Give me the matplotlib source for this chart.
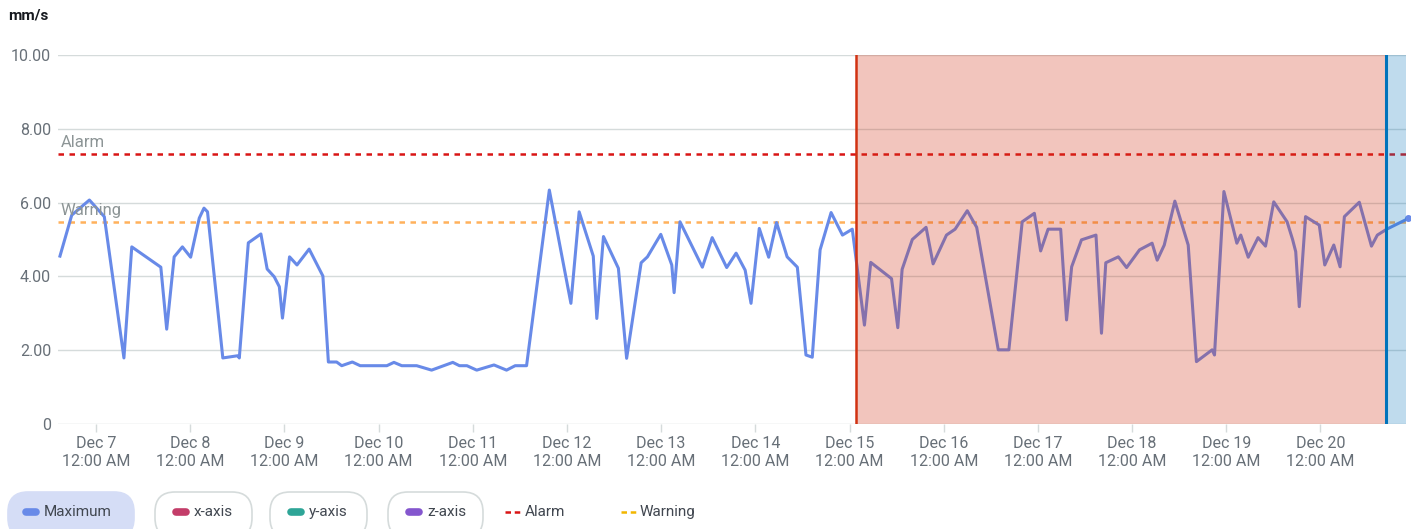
import matplotlib
matplotlib.use("Agg")
import matplotlib.pyplot as plt
import matplotlib.dates as mdates
from matplotlib.patches import FancyBboxPatch
import pandas as pd

plt.rcParams['font.family'] = ['Roboto', 'DejaVu Sans']

# hours since Dec 7 12:00 AM and the maximum vibration (mm/s)
hours = [-9.2, -6.2, -1.7, 2.1, 7.1, 9.1, 16.5, 18.0, 19.9, 22.0,
         24.1, 26.3, 27.5, 28.4, 32.3, 36.1, 36.5, 38.8, 42.0, 43.6,
         45.4, 46.7, 47.5, 49.3, 51.2, 54.3, 57.8, 59.2, 61.3, 62.6,
         65.3, 67.3, 74.1, 75.9, 77.9, 81.7, 85.5, 90.9, 92.6, 94.5,
         97.0, 101.4, 104.6, 106.8, 109.7, 115.5, 121.0, 123.1, 126.7, 127.6,
         129.3, 133.1, 135.2, 138.9, 140.5, 143.9, 146.7, 147.3, 148.8, 154.5,
         157.0, 160.7, 163.1, 165.4, 166.9, 169.0, 171.4, 173.4, 176.1, 178.7,
         180.9, 182.5, 184.5, 187.3, 190.2, 192.7, 195.8, 197.4, 202.7, 204.3,
         205.4, 208.0, 211.5, 213.3, 216.7, 218.9, 222.0, 224.4, 229.9, 232.6,
         236.0, 239.1, 240.7, 242.6, 245.8, 247.3, 248.6, 251.1, 254.8, 256.2,
         257.3, 260.5, 262.6, 265.9, 269.1, 270.4, 272.2, 274.9, 278.3, 280.4,
         284.4, 285.0, 287.4, 290.7, 291.7, 293.6, 296.1, 298.0, 300.1, 303.5,
         304.9, 305.7, 306.6, 308.2, 311.7, 313.1, 315.4, 317.0, 318.1, 321.9,
         325.0, 326.5, 328.9, 334.4]
maximum = [4.55, 5.66, 6.07, 5.62, 1.79, 4.80, 4.25, 2.57, 4.53, 4.80,
           4.52, 5.58, 5.85, 5.75, 1.79, 1.85, 1.79, 4.91, 5.15, 4.20,
           3.99, 3.72, 2.87, 4.53, 4.31, 4.74, 4.01, 1.68, 1.68, 1.58,
           1.68, 1.58, 1.58, 1.67, 1.58, 1.58, 1.46, 1.67, 1.58, 1.58,
           1.46, 1.60, 1.46, 1.58, 1.58, 6.34, 3.27, 5.75, 4.55, 2.86,
           5.08, 4.22, 1.78, 4.37, 4.53, 5.14, 4.31, 3.56, 5.48, 4.25,
           5.05, 4.24, 4.63, 4.17, 3.27, 5.30, 4.52, 5.46, 4.53, 4.25,
           1.87, 1.81, 4.72, 5.73, 5.12, 5.28, 2.68, 4.38, 3.94, 2.61,
           4.19, 5.00, 5.33, 4.34, 5.12, 5.28, 5.78, 5.33, 2.01, 2.01,
           5.48, 5.71, 4.69, 5.28, 5.28, 2.82, 4.26, 4.99, 5.12, 2.46,
           4.37, 4.53, 4.24, 4.72, 4.90, 4.44, 4.85, 6.04, 4.85, 1.69,
           2.01, 1.87, 6.30, 4.90, 5.12, 4.52, 5.05, 4.82, 6.02, 5.48,
           5.00, 4.67, 3.18, 5.62, 5.39, 4.31, 4.85, 4.26, 5.62, 6.01,
           4.82, 5.12, 5.28, 5.57]

alarm_level = 7.32
warning_level = 5.47
alarm_start_h = 193.6      # alarm state begins
now_h = 328.7              # current time marker
x_range_h = (-9.7, 333.8)

legend_items = ["Maximum", "x-axis", "y-axis", "z-axis"]
legend_colors = ["#688ae8", "#c33d69", "#2ea597", "#8456ce"]

base = pd.Timestamp("2020-12-07")
to_time = lambda h: base + pd.to_timedelta(h, unit="h")
times = to_time(hours)

W, H = 1411, 529
fig = plt.figure(figsize=(W / 100, H / 100), dpi=100)
ax = fig.add_axes([58 / W, 105 / H, 1348 / W, 369 / H])

ax.plot(times, maximum, color="#688ae8", linewidth=2.2, zorder=3)
ax.plot(times[-1:], maximum[-1:], "o", color="#688ae8", markersize=4,
        clip_on=False, zorder=3)

ax.axhline(alarm_level, color="#d91515", linestyle=(0, (2.2, 2.2)), linewidth=1.8, zorder=2)
ax.axhline(warning_level, color="#ffb15c", linestyle=(0, (2.2, 2.2)), linewidth=1.8, zorder=2)
ax.text(0.002, 7.62, "Alarm", transform=ax.get_yaxis_transform(),
        color="#8d9596", fontsize=12, va="center", ha="left", zorder=4)
ax.text(0.002, 5.78, "Warning", transform=ax.get_yaxis_transform(),
        color="#8d9596", fontsize=12, va="center", ha="left", zorder=4)

# shaded alarm period and the part after the current time
ax.axvspan(to_time(alarm_start_h), to_time(now_h), color="#d13212", alpha=0.28,
           linewidth=0, zorder=5)
ax.axvspan(to_time(now_h), to_time(x_range_h[1]), color="#0073bb", alpha=0.25,
           linewidth=0, zorder=5)
ax.axvline(to_time(alarm_start_h), color="#d13212", linewidth=1.8, zorder=6)
ax.axvline(to_time(now_h), color="#0073bb", linewidth=2.2, zorder=6)

ax.set_xlim(to_time(x_range_h[0]), to_time(x_range_h[1]))
ax.set_ylim(0, 10)
ax.set_yticks([0, 2, 4, 6, 8, 10])
ax.set_yticklabels(["0", "2.00", "4.00", "6.00", "8.00", "10.00"])
ax.xaxis.set_major_locator(mdates.DayLocator())
ax.xaxis.set_major_formatter(mdates.DateFormatter("%b %-d\n%I:%M %p"))

ax.grid(axis="y", color="#d5dbdb", linewidth=1)
ax.set_axisbelow(True)
for s in ax.spines.values():
    s.set_visible(False)
ax.tick_params(axis="y", length=0, pad=5, labelsize=11.5, labelcolor="#687078")
ax.tick_params(axis="x", length=6, width=1, color="#d5dbdb", pad=3,
               labelsize=11.5, labelcolor="#687078")
for lbl in ax.get_xticklabels():
    lbl.set_linespacing(1.25)

# overlay in pixel units for the unit label and the legend row
ov = fig.add_axes([0, 0, 1, 1], zorder=-1)
ov.set_xlim(0, W)
ov.set_ylim(H, 0)
ov.axis("off")
ov.patch.set_alpha(0)

ov.text(8, 15, "mm/s", fontsize=11, fontweight="bold", color="#16191f",
        va="center", ha="left")

pills = [(8, 134), (155, 252), (270, 367), (388, 483)]
for i, (name, col) in enumerate(zip(legend_items, legend_colors)):
    x0, x1 = pills[i]
    face = "#d5ddf6" if i == 0 else "white"
    edge = "#d5ddf6" if i == 0 else "#d5dbdb"
    ov.add_patch(FancyBboxPatch((x0, 492), x1 - x0, 46,
                                boxstyle="round,pad=0,rounding_size=20",
                                facecolor=face, edgecolor=edge, linewidth=1.2))
    mx = x0 + (18 if i == 0 else 21)
    ov.plot([mx, mx + 10], [512, 512], color=col, linewidth=5.5,
            solid_capstyle="round")
    ov.text(mx + 18, 512, name, fontsize=11, color="#414750",
            va="center", ha="left")

ov.plot([505, 522], [512, 512], color="#d91515", linewidth=1.8,
        linestyle=(0, (2.2, 1.5)))
ov.text(525, 512, "Alarm", fontsize=11, color="#414750", va="center", ha="left")
ov.plot([621, 638], [512, 512], color="#f2b600", linewidth=1.8,
        linestyle=(0, (2.2, 1.5)))
ov.text(640, 512, "Warning", fontsize=11, color="#414750", va="center", ha="left")

fig.savefig("out.png", dpi=100)
